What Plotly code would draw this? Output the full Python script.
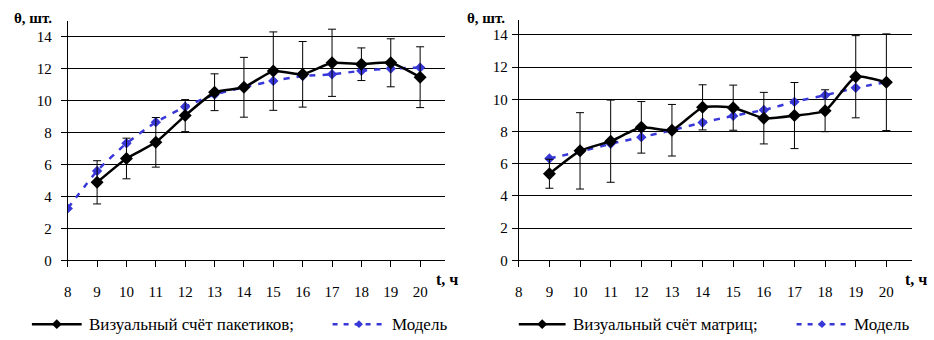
import plotly.graph_objects as go

hours = [8, 9, 10, 11, 12, 13, 14, 15, 16, 17, 18, 19, 20]
tick_vals = [0, 2, 4, 6, 8, 10, 12, 14]

# Left chart: visual count of packets
left_x = [9, 10, 11, 12, 13, 14, 15, 16, 17, 18, 19, 20]
left_obs = [4.88, 6.37, 7.38, 9.05, 10.51, 10.82, 11.83, 11.63, 12.35, 12.26, 12.35, 11.45]
left_err = [1.35, 1.27, 1.55, 1.0, 1.15, 1.87, 2.45, 2.05, 2.1, 1.02, 1.5, 1.9]
left_model_x = [8, 9, 10, 11, 12, 13, 14, 15, 16, 17, 18, 19, 20]
left_model = [3.25, 5.59, 7.32, 8.64, 9.6, 10.37, 10.82, 11.22, 11.52, 11.63, 11.85, 11.99, 12.05]

# Right chart: visual count of matrices
right_x = [9, 10, 11, 12, 13, 14, 15, 16, 17, 18, 19, 20]
right_obs = [5.38, 6.8, 7.4, 8.26, 8.08, 9.5, 9.48, 8.83, 8.99, 9.29, 11.4, 11.06]
right_err = [0.9, 2.37, 2.55, 1.6, 1.6, 1.4, 1.4, 1.6, 2.05, 1.3, 2.55, 3.0]
right_model_x = [9, 10, 11, 12, 13, 14, 15, 16, 17, 18, 19, 20]
right_model = [6.33, 6.75, 7.24, 7.65, 8.08, 8.56, 8.97, 9.34, 9.84, 10.25, 10.71, 11.06]

name_left = "Визуальный счёт пакетиков;"
name_right = "Визуальный счёт матриц;"
name_model = "Модель"

BLUE = "#3838d8"
FONT = '"Liberation Serif", "Times New Roman", serif'
W, H = 934, 340

fig = go.Figure()

def add_pair(xo, yo, err, xm, ym, name, xa, ya):
    fig.add_trace(go.Scatter(
        x=xm, y=ym, mode="lines+markers", name=name_model,
        line=dict(color=BLUE, width=2.5, dash="6px,7px", shape="spline", smoothing=0.5),
        marker=dict(symbol="diamond", size=8, color=BLUE),
        xaxis=xa, yaxis=ya, showlegend=False))
    fig.add_trace(go.Scatter(
        x=xo, y=yo, mode="lines+markers", name=name,
        line=dict(color="black", width=2.5, shape="spline", smoothing=0.5),
        marker=dict(symbol="diamond", size=10, color="black"),
        error_y=dict(type="data", array=err, color="black", thickness=1, width=4),
        xaxis=xa, yaxis=ya, showlegend=False))

add_pair(left_x, left_obs, left_err, left_model_x, left_model, name_left, "x", "y")
add_pair(right_x, right_obs, right_err, right_model_x, right_model, name_right, "x2", "y2")

def px_x(p):
    return p / W

def px_y(p):
    return 1 - p / H

TF = dict(family=FONT, size=15, color="black")
LF = dict(family=FONT, size=17, color="black")

axis_common = dict(showline=True, linecolor="black", linewidth=1, ticks="outside",
                   tickcolor="black", ticklen=6, tickwidth=1, zeroline=False, tickfont=TF)

xaxis_common = dict(axis_common, tickvals=hours, showgrid=False, ticklabelstandoff=12)
yaxis_common = dict(axis_common, tickvals=tick_vals, showgrid=True, gridcolor="black",
                    gridwidth=1, range=[0, 14.95])

fig.update_layout(
    width=W, height=H, margin=dict(l=0, r=0, t=0, b=0),
    plot_bgcolor="white", paper_bgcolor="white",
    font=dict(family=FONT, size=15, color="black"),
    showlegend=False,
    xaxis=dict(xaxis_common, domain=[px_x(64), px_x(443)], range=[8, 20.85], anchor="y"),
    yaxis=dict(yaxis_common, domain=[px_y(266.7), px_y(21.7)], anchor="x", ticklabelstandoff=6),
    xaxis2=dict(xaxis_common, domain=[px_x(517), px_x(912)], range=[8, 20.84], anchor="y2"),
    yaxis2=dict(yaxis_common, domain=[px_y(266.7), px_y(20)], anchor="x2", ticklabelstandoff=1),
)

# Axis titles
for tx, ty in [(8, 18), (463, 18)]:
    fig.add_annotation(text="<b>θ, шт.</b>", x=px_x(tx), y=px_y(ty), xref="paper", yref="paper",
                       xanchor="left", yanchor="middle", showarrow=False,
                       font=dict(family=FONT, size=15, color="black"))
for tx, ty in [(432, 286), (903, 286)]:
    fig.add_annotation(text="<b>t, ч</b>", x=px_x(tx), y=px_y(ty), xref="paper", yref="paper",
                       xanchor="left", yanchor="middle", showarrow=False,
                       font=dict(family=FONT, size=16, color="black"))

# Hand-drawn legends (one under each chart)
LEG_Y = 332
def legend_entry(x0, x1, label, color, dash, msize):
    fig.add_shape(type="line", xref="paper", yref="paper",
                  x0=px_x(x0), x1=px_x(x1), y0=px_y(LEG_Y), y1=px_y(LEG_Y),
                  line=dict(color=color, width=2.5, dash=dash))
    cx = (x0 + x1) / 2
    path = "M {} {} L {} {} L {} {} L {} {} Z".format(
        px_x(cx), px_y(LEG_Y - msize), px_x(cx + msize), px_y(LEG_Y),
        px_x(cx), px_y(LEG_Y + msize), px_x(cx - msize), px_y(LEG_Y))
    fig.add_shape(type="path", xref="paper", yref="paper", path=path,
                  fillcolor=color, line=dict(color=color, width=0))
    fig.add_annotation(text=label, x=px_x(x1 + 5), y=px_y(LEG_Y), xref="paper", yref="paper",
                       xanchor="left", yanchor="middle", showarrow=False, font=LF)

legend_entry(28, 78, name_left, "black", "solid", 5)
legend_entry(330, 383, name_model, BLUE, "5px,6px", 4)
legend_entry(517, 564, name_right, "black", "solid", 5)
legend_entry(796, 847, name_model, BLUE, "5px,6px", 4)

fig.write_html("out.html", config={"displayModeBar": False},
               post_script="document.body.style.margin='0';document.documentElement.style.overflow='hidden';document.body.style.overflow='hidden';")
